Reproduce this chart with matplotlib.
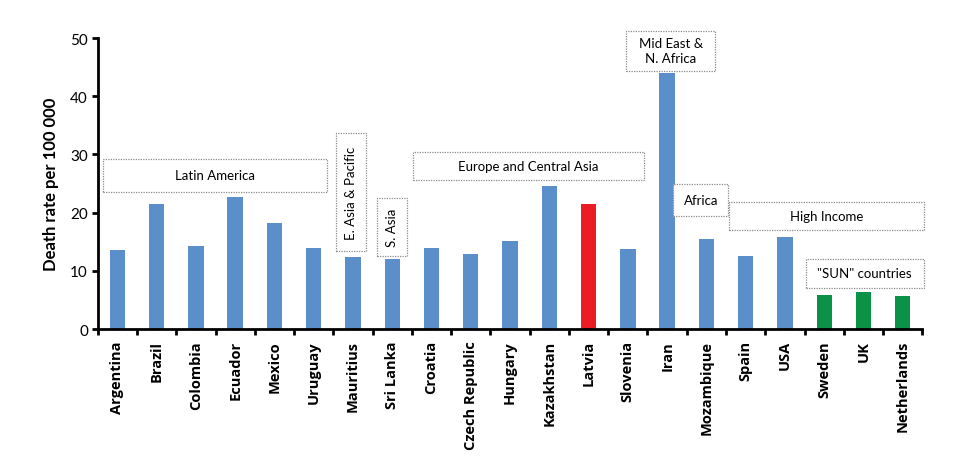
import matplotlib
matplotlib.use("Agg")
import matplotlib.pyplot as plt
from matplotlib.patches import Rectangle

countries = ["Argentina", "Brazil", "Colombia", "Ecuador", "Mexico", "Uruguay",
             "Mauritius", "Sri Lanka", "Croatia", "Czech Republic", "Hungary",
             "Kazakhstan", "Latvia", "Slovenia", "Iran", "Mozambique", "Spain",
             "USA", "Sweden", "UK", "Netherlands"]
death_rates = [13.6, 21.4, 14.3, 22.7, 18.3, 13.9, 12.3, 12.0, 14.0, 12.9, 15.1,
               24.5, 21.5, 13.8, 44.0, 15.4, 12.5, 15.8, 5.8, 6.4, 5.7]
groups = ["other"] * 12 + ["latvia"] + ["other"] * 5 + ["sun"] * 3
y_ticks = [0, 10, 20, 30, 40, 50]

region_labels = ["Latin America", "E. Asia & Pacific", "S. Asia",
                 "Europe and Central Asia", "Mid East &\nN. Africa", "Africa",
                 "High Income", "\"SUN\" countries"]

color_map = {"other": "#5B8FC9", "latvia": "#EC1C24", "sun": "#0A9247"}

plt.rcParams['font.family'] = ['Lato', 'DejaVu Sans']

fig = plt.figure(figsize=(9.73, 4.6), dpi=100)
ax = fig.add_axes([0.1004, 0.2826, 0.8476, 0.6324])

x = list(range(len(countries)))
ax.bar(x, death_rates, width=0.39, color=[color_map[g] for g in groups], zorder=2)

ax.set_xlim(-0.5, len(countries) - 0.5)
ax.set_ylim(0, 50)
ax.set_yticks(y_ticks)
ax.set_yticklabels([str(t) for t in y_ticks], fontsize=11)
ax.set_xticks(x)
ax.set_xticklabels(countries, rotation=90, fontsize=10.5, fontweight='bold',
                   family='Open Sans')
ax.tick_params(axis='x', length=0, pad=8)
ax.set_xticks([i - 0.5 for i in range(len(countries) + 1)], minor=True)
ax.tick_params(axis='x', which='minor', length=4, width=2, direction='out')
ax.tick_params(axis='y', length=4, width=2, direction='out', pad=3)

for s in ['top', 'right']:
    ax.spines[s].set_visible(False)
for s in ['left', 'bottom']:
    ax.spines[s].set_linewidth(2)

ax.set_ylabel("Death rate per 100 000", fontsize=12, fontweight='bold', labelpad=8)

# region annotation boxes: (x0, x1, y0, y1, rotation)
box_layout = [(-0.36, 5.34, 23.6, 29.2, 0),
              (5.56, 6.34, 13.4, 33.7, 90),
              (6.60, 7.38, 12.5, 22.6, 90),
              (7.52, 13.40, 25.6, 30.5, 0),
              (12.95, 15.23, 44.4, 51.3, 0),
              (14.15, 15.56, 19.4, 25.0, 0),
              (15.58, 20.53, 17.0, 21.9, 0),
              (17.53, 20.53, 7.1, 12.1, 0)]

for label, (x0, x1, y0, y1, rot) in zip(region_labels, box_layout):
    r = Rectangle((x0, y0), x1 - x0, y1 - y0, fill=True, facecolor='white',
                  edgecolor='#8a8a8a', linestyle=(0, (1, 1)), linewidth=0.9,
                  clip_on=False, zorder=3)
    ax.add_patch(r)
    ax.text((x0 + x1) / 2, (y0 + y1) / 2, label, ha='center', va='center',
            rotation=rot, fontsize=9.5, zorder=4, clip_on=False,
            linespacing=1.3)

fig.savefig("out.png", dpi=100)
